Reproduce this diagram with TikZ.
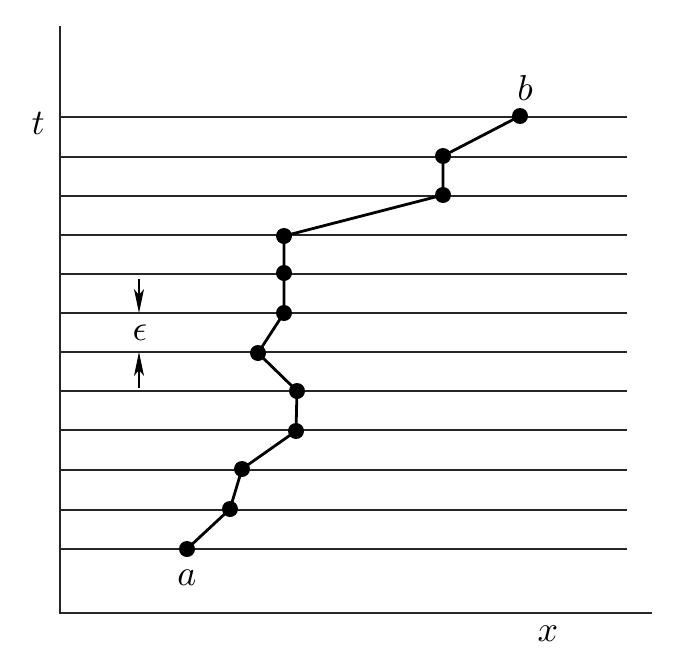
\documentclass[tikz,border=0pt]{standalone}
\usepackage{graphicx}
\usetikzlibrary{arrows.meta}
\newcommand{\biglab}[1]{\scalebox{3.6}{$#1$}}
\begin{document}
\begin{tikzpicture}[x=1pt,y=-1pt,
  grid/.style={line width=1.4pt,black!85},
  axis/.style={line width=1.6pt,black!85},
  pathl/.style={line width=2.8pt},
  dot/.style={circle,fill=black,inner sep=0pt,minimum size=16pt},
  lab/.style={inner sep=0pt},
  eps/.style={-{Stealth[length=24pt,width=10pt,inset=6pt]},line width=1.4pt}]
\useasboundingbox (0,0) rectangle (686,672);
% axes
\coordinate (o) at (60,613);
\coordinate (ytop) at (60,26);
\coordinate (xend) at (652,613);
\draw[axis] (ytop) -- (o) -- (xend);
% grid lines
\foreach \y in {117,157,196,235,274,313,352,391,430,470,510,549}
  \draw[grid] (60,\y) -- (627,\y);
% points
\node[dot] (p0) at (187,549) {};
\node[dot] (p1) at (230,509) {};
\node[dot] (p2) at (242,469) {};
\node[dot] (p3) at (296,431) {};
\node[dot] (p4) at (297,391) {};
\node[dot] (p5) at (258,353) {};
\node[dot] (p6) at (284,313) {};
\node[dot] (p7) at (284,273) {};
\node[dot] (p8) at (284,236) {};
\node[dot] (p9) at (443,195) {};
\node[dot] (p10) at (443,156) {};
\node[dot] (p11) at (520,116) {};
\draw[pathl] (p0.center) -- (p1.center) -- (p2.center) -- (p3.center) -- (p4.center) -- (p5.center) -- (p6.center) -- (p7.center) -- (p8.center) -- (p9.center) -- (p10.center) -- (p11.center);
% labels
\node[lab] (la) at (187,578) {\biglab{a}};
\node[lab] (lb) at (525,88) {\biglab{b}};
\node[lab] (lt) at (38,123) {\biglab{t}};
\node[lab] (lx) at (548,634) {\biglab{x}};
\node[lab] (le) at (140,333) {\biglab{\epsilon}};
% epsilon arrows
\coordinate (ua) at (139,279);
\coordinate (ut) at (139,313);
\coordinate (la2) at (139,388);
\coordinate (lt2) at (139,352);
\draw[eps] (ua) -- (ut);
\draw[eps] (la2) -- (lt2);
\end{tikzpicture}
\end{document}
